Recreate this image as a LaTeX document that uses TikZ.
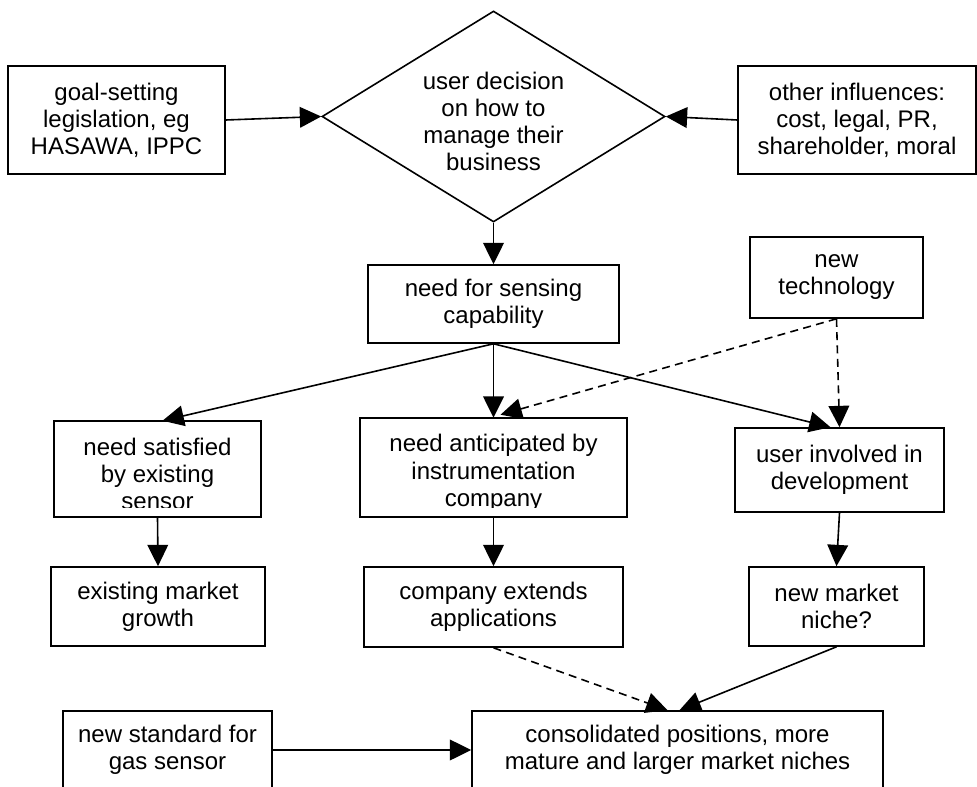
\documentclass[tikz,border=0pt]{standalone}
\usepackage{fontspec}
\setmainfont{Liberation Sans}
\usetikzlibrary{arrows.meta,shapes.geometric,calc}

\tikzset{
  box/.style={draw, rectangle, line width=1.2pt},
  flow/.style={line width=1.2pt, -{Triangle[length=16pt,width=15.5pt]}},
  soft/.style={flow, dash pattern=on 6pt off 4pt},
}

\begin{document}
\begin{tikzpicture}[x=0.75pt,y=-0.75pt,
  every node/.style={font=\fontsize{18}{20.3}\selectfont, align=center, inner sep=0pt}]
\useasboundingbox (0,0) rectangle (977,787);
\clip (0,0) rectangle (977,787);

% top row: influences feeding the decision
\node[box, minimum width=217*0.75pt, minimum height=108*0.75pt] (goal) at (116.5,120)
  {goal-setting\\legislation, eg\\HASAWA, IPPC};
\node[draw, diamond, line width=1.2pt, minimum width=343*0.75pt, minimum height=211*0.75pt,
  shape aspect=1.63] (dec) at (493.5,116.5)
  {\rule{0pt}{20.5pt}user decision\\on how to\\manage their\\business};
\node[box, minimum width=238*0.75pt, minimum height=108*0.75pt] (oth) at (857,120)
  {other influences:\\cost, legal, PR,\\shareholder, moral};

% sensing need and technology
\node[box, minimum width=251*0.75pt, minimum height=78*0.75pt] (need) at (493.5,304)
  {need for sensing\\capability};
\node[box, minimum width=173*0.75pt, minimum height=81*0.75pt] (tech) at (836.5,277.5)
  {new\\technology};

% three routes; the first two boxes cut their last line short
\begin{scope}
  \clip (54,421) rectangle (261,507);
  \node[minimum width=207*0.75pt, minimum height=96*0.75pt] (sat) at (157.5,469)
    {\rule{0pt}{21pt}need satisfied\\by existing\\sensor};
\end{scope}
\draw[line width=1.2pt] (sat.south west) rectangle (sat.north east);

\begin{scope}
  \clip (360,418) rectangle (627,507);
  \node[minimum width=267*0.75pt, minimum height=99*0.75pt] (anti) at (493.5,467.5)
    {\rule{0pt}{21pt}need anticipated by\\instrumentation\\company};
\end{scope}
\draw[line width=1.2pt] (anti.south west) rectangle (anti.north east);

\node[box, minimum width=209*0.75pt, minimum height=84*0.75pt] (inv) at (839.5,470)
  {user involved in\\development};

% outcomes
\node[box, minimum width=214*0.75pt, minimum height=79*0.75pt] (exist) at (158,606.5)
  {existing market\\growth};
\node[box, minimum width=259*0.75pt, minimum height=80*0.75pt] (comp) at (493.5,607)
  {company extends\\applications};
\node[box, minimum width=175*0.75pt, minimum height=79*0.75pt] (niche) at (836.5,606.5)
  {new market\\niche?};

\node[box, minimum width=209*0.75pt, minimum height=78*0.75pt] (std) at (167.5,750)
  {new standard for\\gas sensor};
\node[box, minimum width=411*0.75pt, minimum height=78*0.75pt] (cons) at (677.5,750)
  {consolidated positions, more\\mature and larger market niches};

% connectors
\draw[flow] (goal.east) -- (dec.west);
\draw[flow] (oth.west) -- (dec.east);
\draw[flow] (dec.south) -- (need.north);
\draw[flow] (need.south) -- ($(sat.north)+(5,0)$);
\draw[flow] (need.south) -- (anti.north);
\draw[flow] (need.south) -- ($(inv.north)+(-9,0)$);
\draw[soft] (tech.south) -- ($(anti.north)+(7,-3)$);
\draw[soft] (tech.south) -- (inv.north);
\draw[flow] (sat.south) -- (exist.north);
\draw[flow] (anti.south) -- (comp.north);
\draw[flow] (inv.south) -- (niche.north);
\draw[soft] (comp.south) -- ($(cons.north)+(-10,0)$);
\draw[flow] (niche.south) -- ($(cons.north)+(2,0)$);
\draw[flow] (std.east) -- (cons.west);
\end{tikzpicture}
\end{document}
